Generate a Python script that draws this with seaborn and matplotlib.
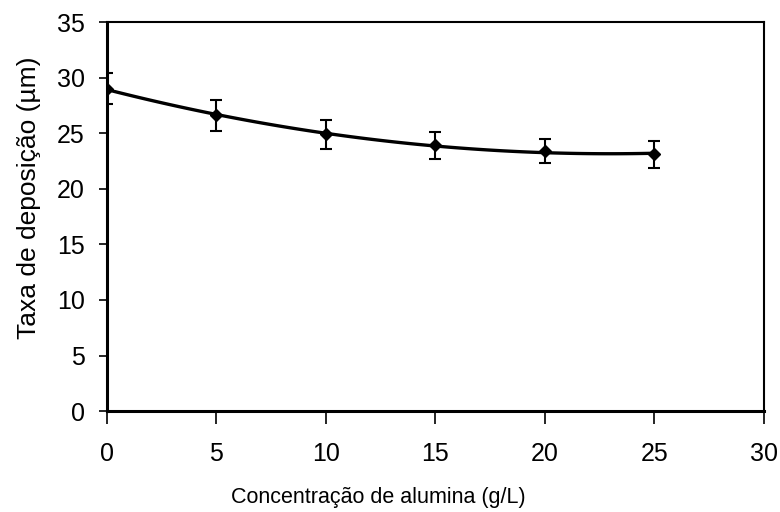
import matplotlib
matplotlib.use("Agg")
import matplotlib.pyplot as plt
import seaborn as sns
import pandas as pd

# Alumina concentration (g/L) vs. deposition rate (µm) with error bars
concentracao = [0, 5, 10, 15, 20, 25]
taxa = [29.0, 26.6, 24.9, 23.9, 23.4, 23.1]
erro = [1.4, 1.4, 1.3, 1.2, 1.1, 1.2]
x_ticks = [0, 5, 10, 15, 20, 25, 30]
y_ticks = [0, 5, 10, 15, 20, 25, 30, 35]

sns.set_theme(style="white")
plt.rcParams["font.family"] = ["Liberation Sans", "DejaVu Sans"]

df = pd.DataFrame({"x": concentracao, "y": taxa, "e": erro})

fig = plt.figure(figsize=(7.8, 5.12), dpi=100)
ax = fig.add_axes([0.137, 0.197, 0.842, 0.76])

# smooth trend through the measurements
sns.regplot(data=df, x="x", y="y", order=2, ci=None, scatter=False,
            line_kws={"color": "black", "lw": 2.4}, ax=ax)
ax.errorbar(df["x"], df["y"], yerr=df["e"], fmt="D", color="black",
            ms=6, capsize=4.5, elinewidth=1.5, capthick=1.5)

ax.set_xlim(0, 30)
ax.set_ylim(0, 35)
ax.set_xticks(x_ticks)
ax.set_yticks(y_ticks)
ax.tick_params(axis="both", direction="out", width=1.2, colors="black",
               labelsize=18, left=True, bottom=True)
ax.tick_params(axis="x", length=9, pad=13)
ax.tick_params(axis="y", length=6, pad=10)
ax.set_xlabel("Concentração de alumina (g/L)", fontsize=15.5, color="black")
ax.set_ylabel("Taxa de deposição (µm)", fontsize=19, color="black")
ax.xaxis.set_label_coords(0.413, -0.195)
ax.yaxis.set_label_coords(-0.101, 0.548)
for s in ["left", "bottom"]:
    ax.spines[s].set_linewidth(2.2)
for s in ["top", "right"]:
    ax.spines[s].set_linewidth(1.5)
for s in ax.spines.values():
    s.set_color("black")

fig.savefig("out.png", dpi=100, facecolor="white")
